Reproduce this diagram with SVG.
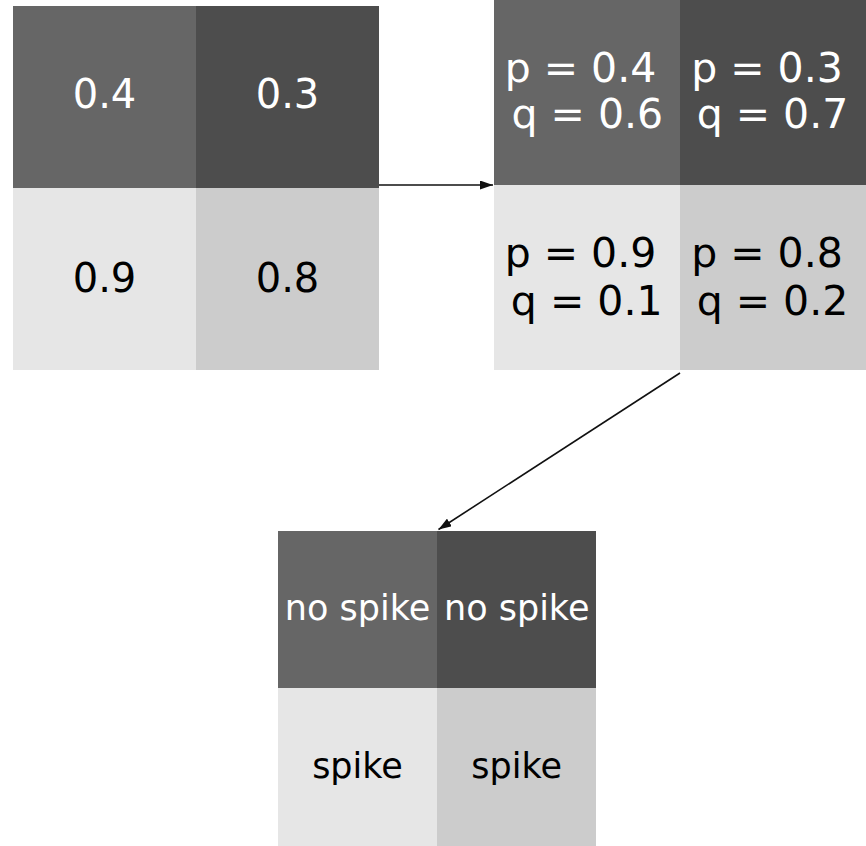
<svg xmlns="http://www.w3.org/2000/svg" width="866" height="846" viewBox="0 0 866 846">
  <style>
    text { font-family: "DejaVu Sans", sans-serif; text-anchor: middle; }
    .c1 { fill: #666666; }
    .c2 { fill: #4d4d4d; }
    .c3 { fill: #e6e6e6; }
    .c4 { fill: #cccccc; }
    .w { fill: #ffffff; }
    .k { fill: #000000; }
    .big { font-size: 40px; }
    .mid { font-size: 41px; }
    .sm { font-size: 35px; }
    .edge { stroke: #111111; stroke-width: 1.6; fill: none; marker-end: url(#head); }
  </style>
  <defs>
    <marker id="head" viewBox="0 0 10 10" refX="10" refY="5" markerWidth="13" markerHeight="9" markerUnits="userSpaceOnUse" orient="auto" preserveAspectRatio="none">
      <path d="M0,0 L10,5 L0,10 z" fill="#111111"/>
    </marker>
  </defs>

  <!-- input values -->
  <g id="values">
    <rect class="c1" x="13" y="6" width="183" height="182"/>
    <rect class="c2" x="196" y="6" width="183" height="182"/>
    <rect class="c3" x="13" y="188" width="183" height="182"/>
    <rect class="c4" x="196" y="188" width="183" height="182"/>
    <text class="big w" x="104.5" y="108">0.4</text>
    <text class="big w" x="287.5" y="108">0.3</text>
    <text class="big k" x="104.5" y="292">0.9</text>
    <text class="big k" x="287.5" y="292">0.8</text>
  </g>

  <!-- probabilities -->
  <g id="probabilities">
    <rect class="c1" x="494" y="0" width="186" height="185"/>
    <rect class="c2" x="680" y="0" width="186" height="185"/>
    <rect class="c3" x="494" y="185" width="186" height="185"/>
    <rect class="c4" x="680" y="185" width="186" height="185"/>
    <text class="mid w" x="580.5" y="82">p = 0.4</text>
    <text class="mid w" x="587.3" y="128">q = 0.6</text>
    <text class="mid w" x="767" y="82">p = 0.3</text>
    <text class="mid w" x="772.5" y="128">q = 0.7</text>
    <text class="mid k" x="580.5" y="267">p = 0.9</text>
    <text class="mid k" x="586.7" y="315">q = 0.1</text>
    <text class="mid k" x="767" y="267">p = 0.8</text>
    <text class="mid k" x="772.5" y="315">q = 0.2</text>
  </g>

  <!-- spike outcomes -->
  <g id="outcomes">
    <rect class="c1" x="278" y="531" width="159" height="157"/>
    <rect class="c2" x="437" y="531" width="159" height="157"/>
    <rect class="c3" x="278" y="688" width="159" height="158"/>
    <rect class="c4" x="437" y="688" width="159" height="158"/>
    <text class="sm w" x="357.5" y="620">no spike</text>
    <text class="sm w" x="516.7" y="620">no spike</text>
    <text class="sm k" x="357.5" y="778">spike</text>
    <text class="sm k" x="516.7" y="778">spike</text>
  </g>

  <g id="connectors">
    <line class="edge" x1="379" y1="185" x2="493" y2="185"/>
    <line class="edge" x1="680" y1="373" x2="438.5" y2="529.5"/>
  </g>
</svg>
